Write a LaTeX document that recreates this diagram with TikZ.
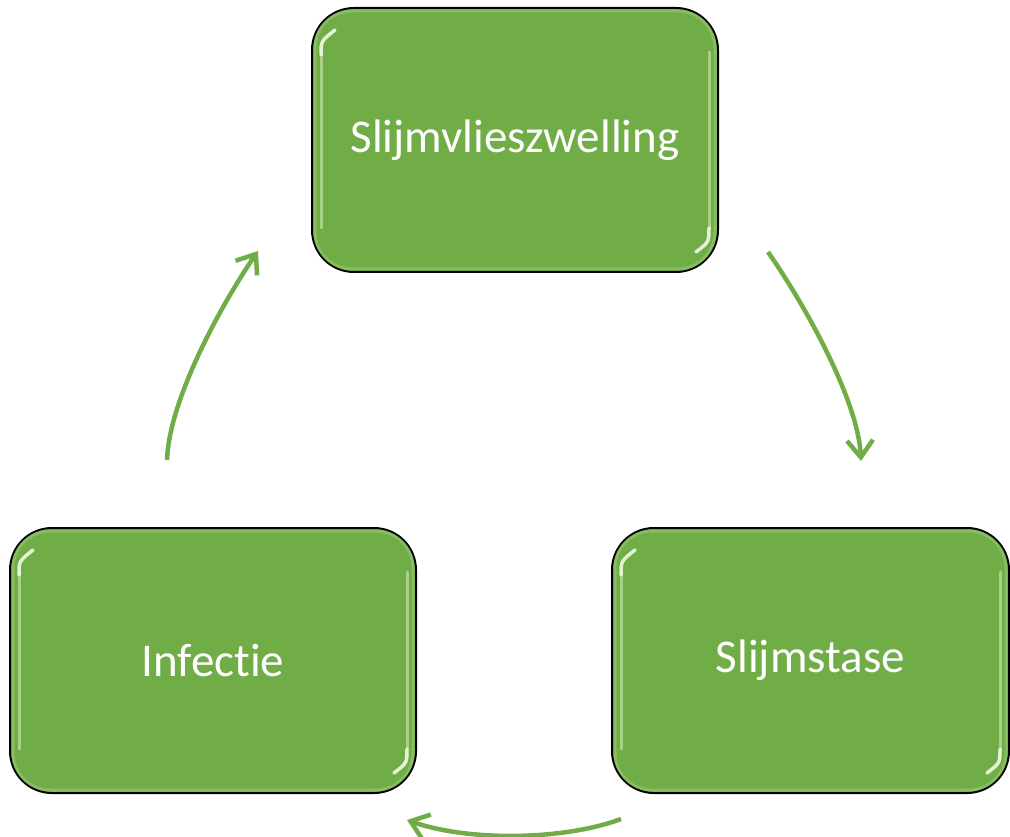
\documentclass[tikz,border=0pt]{standalone}
\usepackage{fontspec}
\setmainfont[Ligatures=NoCommon]{Carlito}
\usetikzlibrary{calc,arrows.meta}
\definecolor{ggreen}{HTML}{70AD47}
\definecolor{glight}{HTML}{B5DC96}
\definecolor{gbright}{HTML}{EEFBE2}
\tikzset{
  gbox/.style={draw=black, line width=2pt, fill=ggreen, rounded corners=42pt,
    text=white, font=\fontsize{47}{56}\selectfont, inner sep=0pt},
  rim/.style={draw=glight, line width=3pt, opacity=0.35, rounded corners=37pt},
  hl/.style={draw=glight, line width=3pt, opacity=0.8, line cap=round},
  hlb/.style={draw=gbright, line width=3.5pt, opacity=0.9, line cap=round},
  arr/.style={draw=ggreen, line width=4.5pt, -{Straight Barb[length=17pt,width=26pt,line width=4.5pt]}}
}
\newcommand\gbox[6]{%
  \node[gbox, minimum width=#4pt, minimum height=#5pt] (#1) at (#2,#3) {#6};
  \draw[rim] ($(#1.north west)+(4,4)$) rectangle ($(#1.south east)+(-4,-4)$);
  \draw[hl] ($(#1.south west)+(10,-45)$) -- ($(#1.north west)+(10,45)$);
  \draw[hl] ($(#1.north east)+(-10,45)$) -- ($(#1.south east)+(-10,-45)$);
  \draw[hlb] ($(#1.north west)+(10,48)$) .. controls ($(#1.north west)+(10,34)$) .. ($(#1.north west)+(24,23)$);
  \draw[hlb] ($(#1.south east)+(-10,-45)$) .. controls ($(#1.south east)+(-10,-31)$) .. ($(#1.south east)+(-23,-21)$);
}
\begin{document}
\begin{tikzpicture}[x=1pt,y=-1pt]
\useasboundingbox (0,0) rectangle (1010,837);
\gbox{top}{515}{140}{406}{264}{Slijmvlieszwelling}
\gbox{left}{213}{660.5}{406}{265}{Infectie}
\gbox{right}{810.5}{660.5}{397}{265}{Slijmstase}
\coordinate (a1s) at (768,252);
\coordinate (a1e) at (861,461);
\coordinate (a2s) at (621,819);
\coordinate (a2e) at (407,820);
\coordinate (a3s) at (167,460);
\coordinate (a3e) at (258,251);
\draw[arr] (a1s) .. controls (805,305) and (858,400) .. (a1e);
\draw[arr] (a2s) .. controls (565,840) and (470,842) .. (a2e);
\draw[arr] (a3s) .. controls (169,400) and (221,305) .. (a3e);
\end{tikzpicture}
\end{document}
